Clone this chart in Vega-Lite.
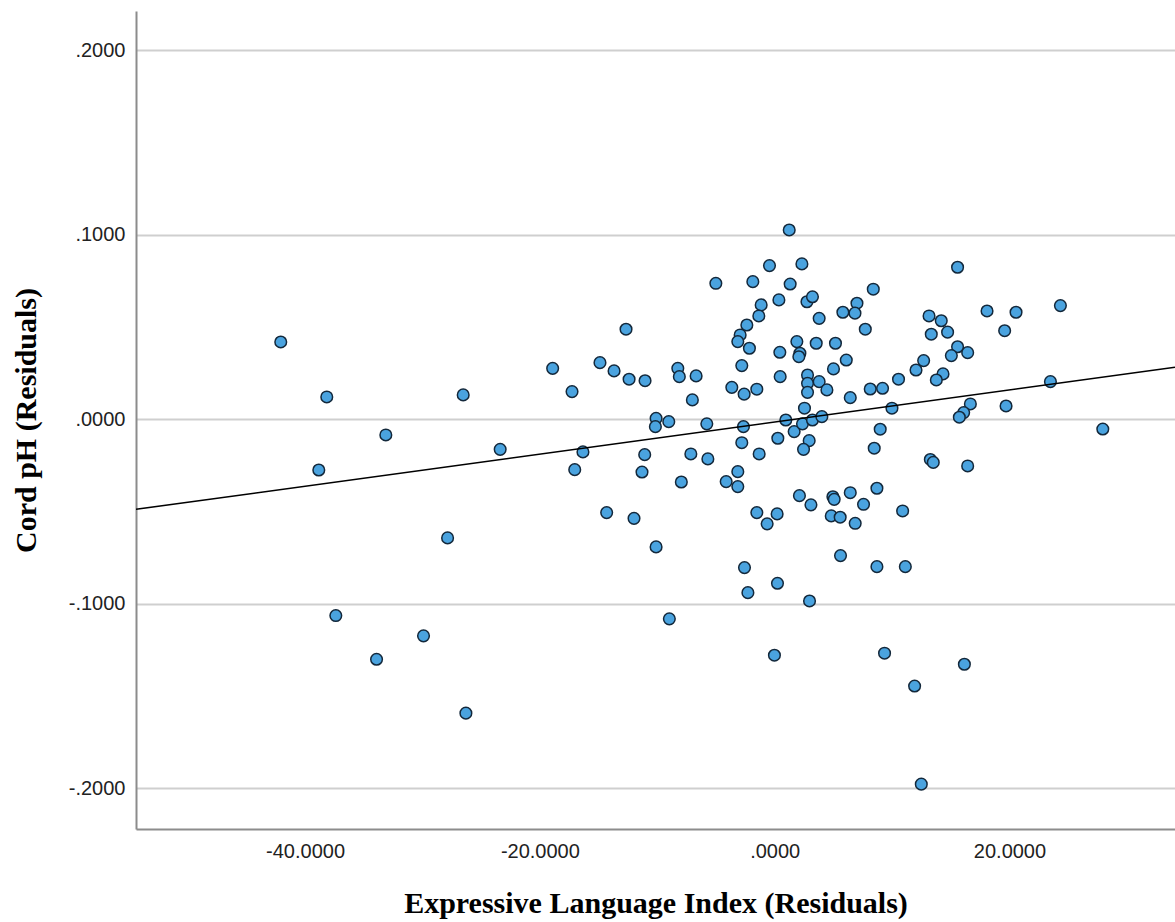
{
  "$schema": "https://vega.github.io/schema/vega-lite/v6.json",
  "autosize": {"type": "none"},
  "padding": {"left": 136, "top": 11, "right": 0, "bottom": 93},
  "width": 1039,
  "height": 818,
  "background": "white",
  "config": {"view": {"stroke": null}},
  "datasets": {
    "pts": [
      {"x": -42.07, "y": 0.0419}, {"x": -38.15, "y": 0.0121}, {"x": -33.12, "y": -0.0085}, {"x": -38.83, "y": -0.0275},
      {"x": -37.38, "y": -0.1064}, {"x": -33.91, "y": -0.1301}, {"x": -29.91, "y": -0.1174}, {"x": -27.86, "y": -0.0643},
      {"x": -26.53, "y": 0.0132}, {"x": -26.30, "y": -0.1593}, {"x": -23.38, "y": -0.0163},
      {"x": -12.66, "y": 0.0488}, {"x": -18.91, "y": 0.0276}, {"x": -14.88, "y": 0.0307}, {"x": -13.68, "y": 0.0262},
      {"x": -12.40, "y": 0.0217}, {"x": -11.04, "y": 0.0209}, {"x": -8.25, "y": 0.0276}, {"x": -8.12, "y": 0.0231},
      {"x": -6.69, "y": 0.0235}, {"x": -7.01, "y": 0.0105}, {"x": -17.26, "y": 0.0150}, {"x": -10.10, "y": 0.0005},
      {"x": -10.16, "y": -0.0040}, {"x": -9.02, "y": -0.0013}, {"x": -16.33, "y": -0.0177}, {"x": -11.07, "y": -0.0192},
      {"x": -7.14, "y": -0.0188}, {"x": -17.03, "y": -0.0273}, {"x": -11.30, "y": -0.0286}, {"x": -7.95, "y": -0.0340},
      {"x": -14.31, "y": -0.0506}, {"x": -11.98, "y": -0.0537}, {"x": -10.10, "y": -0.0692},
      {"x": -1.52, "y": -0.0506}, {"x": 0.21, "y": -0.0513}, {"x": -0.64, "y": -0.0567}, {"x": -2.57, "y": -0.0804},
      {"x": -2.28, "y": -0.0940}, {"x": 0.24, "y": -0.0889}, {"x": -8.97, "y": -0.1082}, {"x": -0.02, "y": -0.1279},
      {"x": 1.24, "y": 0.1026}, {"x": -0.44, "y": 0.0833}, {"x": 2.32, "y": 0.0842}, {"x": -5.01, "y": 0.0737},
      {"x": -1.86, "y": 0.0746}, {"x": 1.32, "y": 0.0733}, {"x": 8.40, "y": 0.0705}, {"x": 0.36, "y": 0.0647},
      {"x": 2.75, "y": 0.0637}, {"x": 3.22, "y": 0.0664}, {"x": -1.15, "y": 0.0620}, {"x": -1.35, "y": 0.0560},
      {"x": 5.81, "y": 0.0580}, {"x": 7.01, "y": 0.0629}, {"x": 6.84, "y": 0.0575}, {"x": 3.79, "y": 0.0547},
      {"x": 7.72, "y": 0.0488}, {"x": -2.37, "y": 0.0511}, {"x": -2.94, "y": 0.0457}, {"x": -3.14, "y": 0.0421},
      {"x": -2.15, "y": 0.0385}, {"x": 1.89, "y": 0.0421}, {"x": 2.15, "y": 0.0358}, {"x": 2.06, "y": 0.0339},
      {"x": 3.54, "y": 0.0412}, {"x": 5.18, "y": 0.0412}, {"x": 0.44, "y": 0.0363}, {"x": 6.10, "y": 0.0321},
      {"x": 5.01, "y": 0.0273}, {"x": -2.80, "y": 0.0291}, {"x": 0.47, "y": 0.0231}, {"x": 2.80, "y": 0.0240},
      {"x": 2.80, "y": 0.0195}, {"x": 3.79, "y": 0.0204}, {"x": 2.80, "y": 0.0146}, {"x": 4.45, "y": 0.0159},
      {"x": -3.65, "y": 0.0173}, {"x": -2.60, "y": 0.0136}, {"x": -1.52, "y": 0.0163}, {"x": 6.44, "y": 0.0117},
      {"x": 8.14, "y": 0.0164}, {"x": 9.19, "y": 0.0168}, {"x": 10.55, "y": 0.0217}, {"x": 9.99, "y": 0.0060},
      {"x": 2.54, "y": 0.0060}, {"x": -5.78, "y": -0.0025}, {"x": -2.66, "y": -0.0040}, {"x": 0.95, "y": -0.0004},
      {"x": 1.66, "y": -0.0067}, {"x": 2.37, "y": -0.0025}, {"x": 3.22, "y": -0.0004}, {"x": 4.02, "y": 0.0014},
      {"x": 8.99, "y": -0.0054}, {"x": 0.27, "y": -0.0103}, {"x": -2.80, "y": -0.0127}, {"x": 2.94, "y": -0.0116},
      {"x": 2.46, "y": -0.0163}, {"x": 8.48, "y": -0.0157}, {"x": -5.69, "y": -0.0215}, {"x": -1.32, "y": -0.0188},
      {"x": -4.13, "y": -0.0338}, {"x": -3.14, "y": -0.0284}, {"x": -3.14, "y": -0.0365}, {"x": 2.11, "y": -0.0414},
      {"x": 4.96, "y": -0.0420}, {"x": 6.44, "y": -0.0398}, {"x": 8.71, "y": -0.0374},
      {"x": 15.58, "y": 0.0824}, {"x": 18.09, "y": 0.0587}, {"x": 20.56, "y": 0.0580}, {"x": 24.34, "y": 0.0616},
      {"x": 19.59, "y": 0.0480}, {"x": 13.15, "y": 0.0560}, {"x": 14.19, "y": 0.0534}, {"x": 13.34, "y": 0.0461},
      {"x": 14.73, "y": 0.0472}, {"x": 15.58, "y": 0.0393}, {"x": 16.44, "y": 0.0361}, {"x": 15.05, "y": 0.0345},
      {"x": 12.69, "y": 0.0318}, {"x": 12.04, "y": 0.0267}, {"x": 14.34, "y": 0.0246}, {"x": 13.77, "y": 0.0213},
      {"x": 23.49, "y": 0.0204}, {"x": 19.71, "y": 0.0072}, {"x": 16.67, "y": 0.0083}, {"x": 16.10, "y": 0.0036},
      {"x": 15.73, "y": 0.0011}, {"x": 27.95, "y": -0.0053}, {"x": 13.26, "y": -0.0218}, {"x": 13.51, "y": -0.0234},
      {"x": 16.44, "y": -0.0253}, {"x": 7.57, "y": -0.0461}, {"x": 10.90, "y": -0.0497}, {"x": 6.86, "y": -0.0564},
      {"x": 3.09, "y": -0.0464}, {"x": 5.07, "y": -0.0434}, {"x": 4.82, "y": -0.0524}, {"x": 5.58, "y": -0.0531},
      {"x": 5.61, "y": -0.0739}, {"x": 8.71, "y": -0.0799}, {"x": 11.13, "y": -0.0799}, {"x": 2.97, "y": -0.0985},
      {"x": 9.36, "y": -0.1268}, {"x": 16.16, "y": -0.1328}, {"x": 11.92, "y": -0.1446}, {"x": 12.49, "y": -0.1978}
    ],
    "fit": [
      {"x": -54.4, "y": -0.0488},
      {"x": 34.1, "y": 0.0282}
    ]
  },
  "layer": [
    {
      "data": {"name": "pts"},
      "mark": {"type": "point", "shape": "circle", "filled": true, "fill": "#4aa3df", "stroke": "#13283b", "strokeWidth": 1.5, "size": 135, "opacity": 1},
      "encoding": {
        "x": {
          "field": "x", "type": "quantitative",
          "scale": {"domain": [-54.4, 34.1], "nice": false, "zero": false},
          "axis": {
            "values": [-40, -20, 0, 20],
            "labelExpr": "(datum.value < 0 ? '-' : '') + (datum.value == 0 ? '.0000' : format(abs(datum.value), '.4f'))",
            "grid": false, "ticks": false,
            "domainColor": "#8c8c8c", "domainWidth": 2,
            "labelFont": "Liberation Sans", "labelFontSize": 20, "labelColor": "#222222", "labelPadding": 12,
            "title": "Expressive Language Index (Residuals)",
            "titleFont": "Liberation Serif", "titleFontSize": 30, "titleFontWeight": "bold", "titleColor": "#000000",
            "titleBaseline": "alphabetic", "titleY": 83, "titleAnchor": "middle"
          }
        },
        "y": {
          "field": "y", "type": "quantitative",
          "scale": {"domain": [-0.2221, 0.2213], "nice": false, "zero": false},
          "axis": {
            "values": [-0.2, -0.1, 0, 0.1, 0.2],
            "labelExpr": "(datum.value < 0 ? '-' : '') + replace(format(abs(datum.value), '.4f'), '0.', '.')",
            "grid": true, "gridColor": "#cfcfcf", "gridWidth": 2,
            "ticks": false,
            "domainColor": "#8c8c8c", "domainWidth": 2,
            "labelFont": "Liberation Sans", "labelFontSize": 20, "labelColor": "#222222", "labelPadding": 11,
            "title": "Cord pH (Residuals)",
            "titleFont": "Liberation Serif", "titleFontSize": 30, "titleFontWeight": "bold", "titleColor": "#000000",
            "titleAngle": -90, "titleBaseline": "alphabetic", "titleX": -101, "titleY": 409, "titleAnchor": "middle"
          }
        }
      }
    },
    {
      "data": {"name": "fit"},
      "mark": {"type": "line", "color": "#000000", "strokeWidth": 1.5, "clip": true},
      "encoding": {
        "x": {"field": "x", "type": "quantitative"},
        "y": {"field": "y", "type": "quantitative"}
      }
    }
  ]
}
